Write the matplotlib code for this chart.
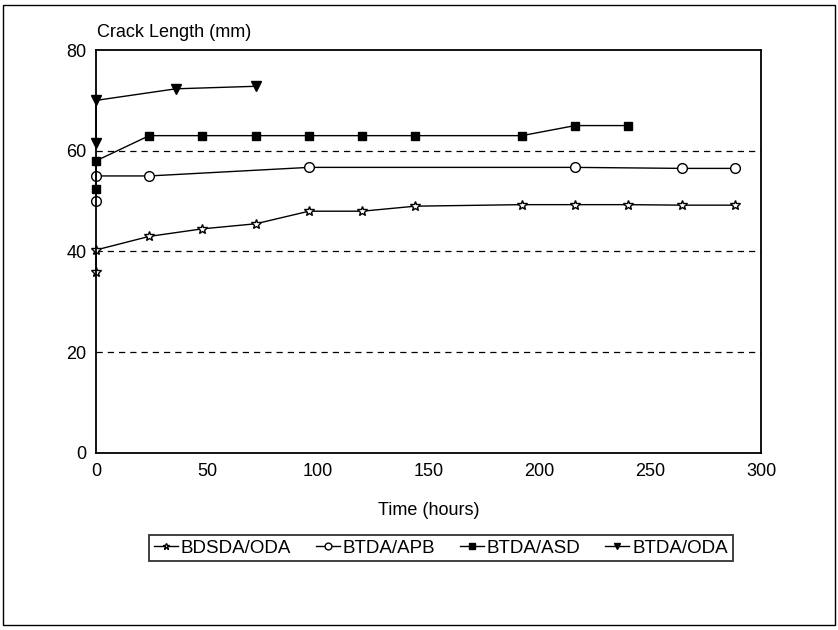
import matplotlib
matplotlib.use("Agg")
import matplotlib.pyplot as plt
from matplotlib.patches import Rectangle

plt.rcParams['font.family'] = ['Liberation Sans', 'DejaVu Sans']

# données
t_bdsda = [0, 0, 24, 48, 72, 96, 120, 144, 192, 216, 240, 264, 288]
l_bdsda = [36, 40.3, 43, 44.5, 45.5, 48, 48, 49, 49.3, 49.3, 49.3, 49.2, 49.2]
t_apb = [0, 0, 24, 96, 216, 264, 288]
l_apb = [50, 55, 55, 56.7, 56.7, 56.5, 56.5]
t_asd = [0, 0, 24, 48, 72, 96, 120, 144, 192, 216, 240]
l_asd = [52.5, 58, 63, 63, 63, 63, 63, 63, 63, 65, 65]
t_oda = [0, 0, 36, 72]
l_oda = [61.5, 70, 72.3, 72.8]
xticks = [0, 50, 100, 150, 200, 250, 300]
yticks = [0, 20, 40, 60, 80]

fig = plt.figure(figsize=(8.38, 6.3), dpi=100)
ax = fig.add_axes([0.1146, 0.281, 0.794, 0.6396])

ax.plot(t_bdsda, l_bdsda, color='black', lw=1, marker='*', ms=7,
        mfc='white', mec='black', label='BDSDA/ODA', clip_on=False)
ax.plot(t_apb, l_apb, color='black', lw=1, marker='o', ms=7,
        mfc='white', mec='black', label='BTDA/APB', clip_on=False)
ax.plot(t_asd, l_asd, color='black', lw=1, marker='s', ms=6,
        mfc='black', mec='black', label='BTDA/ASD', clip_on=False)
ax.plot(t_oda, l_oda, color='black', lw=1, marker='v', ms=7,
        mfc='black', mec='black', label='BTDA/ODA', clip_on=False)

for y in [20, 40, 60]:
    ax.axhline(y, color='black', lw=0.9, ls=(0, (5, 4)), zorder=0)

ax.set_xlim(0, 300)
ax.set_ylim(0, 80)
ax.set_xticks(xticks)
ax.set_yticks(yticks)
ax.tick_params(length=0, labelsize=13, pad=7)
for s in ax.spines.values():
    s.set_linewidth(1.3)
ax.set_xlabel('Time (hours)', fontsize=13, labelpad=16)
fig.text(0.116, 0.935, 'Crack Length (mm)', fontsize=13, ha='left', va='bottom')

leg = fig.legend(loc='center', bbox_to_anchor=(0.526, 0.13), ncol=4,
                 fontsize=13.5, frameon=True, fancybox=False, edgecolor='black',
                 handlelength=1.3, handletextpad=0.15, columnspacing=1.3,
                 borderpad=0.25, markerscale=0.7)
leg.get_frame().set_linewidth(1.3)

fig.patches.append(Rectangle((0.004, 0.008), 0.992, 0.984, transform=fig.transFigure,
                             fill=False, edgecolor='black', lw=1))

fig.savefig('out.png', dpi=100)
